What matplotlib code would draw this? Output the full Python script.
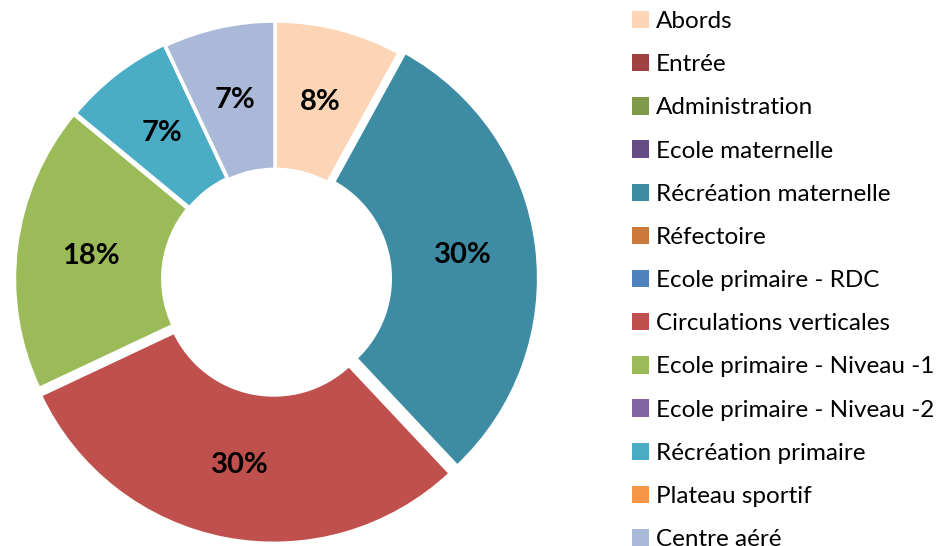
import matplotlib.pyplot as plt
from matplotlib.patches import Patch

categories = ["Abords", "Entrée", "Administration", "Ecole maternelle",
              "Récréation maternelle", "Réfectoire", "Ecole primaire - RDC",
              "Circulations verticales", "Ecole primaire - Niveau -1",
              "Ecole primaire - Niveau -2", "Récréation primaire",
              "Plateau sportif", "Centre aéré"]
values = [8, 0, 0, 0, 30, 0, 0, 30, 18, 0, 7, 0, 7]
colors = ["#FBD5B5", "#9E4140", "#7F9A48", "#664C85", "#3E8CA3", "#CB7A3B",
          "#4F81BD", "#C0504D", "#9BBB59", "#8064A2", "#4BACC6", "#F79646",
          "#AAB9D7"]
explode = [0, 0, 0, 0, 0.022, 0, 0, 0.025, 0.01, 0, 0.006, 0, 0]

plt.rcParams['font.family'] = ['Lato', 'DejaVu Sans']

fig = plt.figure(figsize=(9.36, 5.46), dpi=100)
# pie axes: centre at (275, 280) px from top, radius 258 px
L = 1.1
W = 516 * L
ax = fig.add_axes([(275 - W / 2) / 936, (267 - W / 2) / 546, W / 936, W / 546])


def fmt(p):
    return f"{p:.0f}%" if p > 0.5 else ""


wedges, texts, autotexts = ax.pie(
    values, colors=colors, startangle=90, counterclock=False,
    explode=explode, radius=1, autopct=fmt, pctdistance=0.71,
    wedgeprops=dict(width=0.575, edgecolor="white", linewidth=2.5),
    textprops=dict(fontsize=21, fontweight="bold", color="black"))
ax.set_xlim(-L, L)
ax.set_ylim(-L, L)
ax.set_aspect("equal")
ax.axis("off")

handles = [Patch(facecolor=c, edgecolor="none") for c in colors]
fig.legend(handles, categories, loc="upper left",
           bbox_to_anchor=(621 / 936, 1.0), frameon=False,
           fontsize=17.5, handlelength=0.72, handleheight=0.72,
           handletextpad=0.25, labelspacing=0.905, borderaxespad=0.05)

fig.savefig("out.png", dpi=100)
